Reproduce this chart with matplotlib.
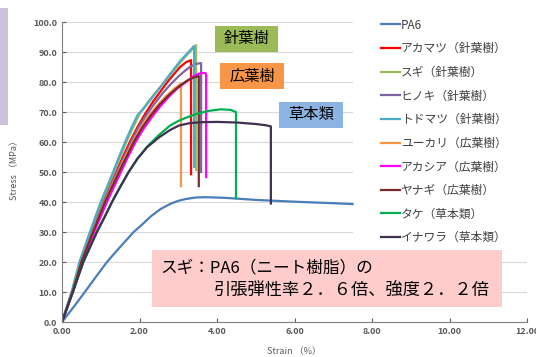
import matplotlib
matplotlib.use("Agg")
import matplotlib.pyplot as plt
from matplotlib.patches import Rectangle

plt.rcParams['font.family'] = ['Noto Sans CJK JP', 'DejaVu Sans']

# stress-strain curves (strain %, stress MPa)
pa6_x = [0, 0.3, 0.59, 0.9, 1.16, 1.5, 1.85, 2.05, 2.3, 2.55, 2.8, 3.0, 3.2, 3.45, 3.7, 4.2, 5.0, 6.0, 7.0, 7.5]
pa6_y = [0, 5, 10, 15.5, 20, 25, 30, 32.3, 35.3, 37.7, 39.4, 40.4, 41.0, 41.5, 41.6, 41.4, 40.7, 40.1, 39.6, 39.3]

akamatsu_x = [0, 0.26, 0.48, 0.76, 1.06, 1.23, 1.4, 1.57, 1.75, 1.95, 2.15, 2.35, 2.55, 2.72, 2.9, 3.05, 3.2, 3.33, 3.33]
akamatsu_y = [0, 10, 20, 30, 40, 45, 50, 55, 60, 65, 69.5, 73.5, 77, 80, 82.8, 85, 86.6, 87.3, 49.3]

sugi_x = [0, 0.25, 0.46, 0.73, 1.02, 1.18, 1.34, 1.5, 1.66, 1.84, 2.03, 2.2, 2.4, 2.58, 2.75, 2.93, 3.1, 3.28, 3.46, 3.46]
sugi_y = [0, 10, 20, 30, 40, 45, 50, 55, 60, 65, 70, 73, 76.3, 79, 81.7, 84.5, 87.2, 89.8, 92.3, 50.7]

hinoki_x = [0, 0.26, 0.48, 0.77, 1.08, 1.25, 1.42, 1.6, 1.78, 1.98, 2.2, 2.4, 2.6, 2.8, 3.0, 3.15, 3.3, 3.45, 3.59, 3.59]
hinoki_y = [0, 10, 20, 30, 40, 45, 50, 55, 60, 65, 69.5, 73, 76.3, 79.2, 81.8, 83.5, 85, 86, 86.3, 50.0]

todomatsu_x = [0, 0.25, 0.45, 0.72, 1.0, 1.16, 1.32, 1.47, 1.63, 1.8, 1.95, 2.1, 2.25, 2.4, 2.58, 2.75, 2.9, 3.05, 3.23, 3.41, 3.41]
todomatsu_y = [0, 10, 20, 30, 40, 45, 50, 55, 60, 65, 69, 71, 73.5, 76, 79, 82, 84.5, 87, 89.5, 92.0, 51.7]

yukari_x = [0, 0.27, 0.5, 0.79, 1.1, 1.27, 1.45, 1.63, 1.82, 2.03, 2.25, 2.48, 2.7, 2.9, 3.07, 3.07]
yukari_y = [0, 10, 20, 30, 40, 45, 50, 55, 60, 64.8, 69, 72.5, 75.5, 77.8, 79.5, 45.3]

akashia_x = [0, 0.28, 0.52, 0.83, 1.16, 1.34, 1.52, 1.7, 1.9, 2.1, 2.3, 2.52, 2.75, 2.97, 3.2, 3.35, 3.5, 3.6, 3.7, 3.72, 3.72]
akashia_y = [0, 10, 20, 30, 40, 45, 50, 55, 60, 64.3, 68, 71.6, 75, 77.8, 80, 81.5, 82.6, 83, 83, 82.3, 48.3]

yanagi_x = [0, 0.27, 0.5, 0.8, 1.11, 1.29, 1.47, 1.66, 1.85, 2.07, 2.3, 2.52, 2.75, 2.95, 3.1, 3.25, 3.4, 3.53, 3.53]
yanagi_y = [0, 10, 20, 30, 40, 45, 50, 55, 60, 64.8, 69, 72.5, 75.5, 77.8, 79.3, 80.6, 81.5, 82, 45.3]

take_x = [0, 0.28, 0.55, 0.9, 1.1, 1.29, 1.5, 1.72, 1.95, 2.2, 2.5, 2.79, 3.0, 3.22, 3.5, 3.8, 4.1, 4.35, 4.49, 4.49]
take_y = [0, 10, 20, 30, 35, 40, 45, 50, 54.5, 58.5, 62.3, 65.5, 67, 68.2, 69.5, 70.4, 70.9, 70.7, 70, 41.3]

inawara_x = [0, 0.28, 0.55, 0.9, 1.1, 1.29, 1.5, 1.72, 1.95, 2.2, 2.5, 2.79, 3.02, 3.3, 3.6, 4.0, 4.5, 5.0, 5.25, 5.39, 5.39]
inawara_y = [0, 10, 20, 30, 35, 40, 45, 50, 54.5, 58.3, 61.5, 64, 65.5, 66.3, 66.6, 66.7, 66.5, 66.0, 65.6, 65.2, 39.5]

names = ["PA6", "アカマツ（針葉樹）", "スギ（針葉樹）", "ヒノキ（針葉樹）", "トドマツ（針葉樹）",
         "ユーカリ（広葉樹）", "アカシア（広葉樹）", "ヤナギ（広葉樹）", "タケ（草本類）", "イナワラ（草本類）"]
colors = ["#4a7ebb", "#ff0000", "#9bbb59", "#8064a2", "#4bacc6",
          "#f79646", "#ff00ff", "#772c2a", "#00b050", "#403152"]
curves = [(pa6_x, pa6_y), (akamatsu_x, akamatsu_y), (sugi_x, sugi_y), (hinoki_x, hinoki_y),
          (todomatsu_x, todomatsu_y), (yukari_x, yukari_y), (akashia_x, akashia_y),
          (yanagi_x, yanagi_y), (take_x, take_y), (inawara_x, inawara_y)]

fig = plt.figure(figsize=(5.36, 3.57), dpi=100)
ax = fig.add_axes([62/536, 35/357, 465/536, 300/357])

for (xs, ys), c, n in zip(curves, colors, names):
    ax.plot(xs, ys, color=c, lw=1.6, label=n, solid_joinstyle="round")

ax.set_xlim(0, 12)
ax.set_ylim(0, 100)
ax.set_xticks(range(0, 13, 2))
ax.set_yticks(range(0, 101, 10))
ax.xaxis.set_major_formatter(lambda v, p: f"{v:.2f}")
ax.yaxis.set_major_formatter(lambda v, p: f"{v:.1f}")
ax.tick_params(labelsize=6.5, colors="#595959", length=3, direction="in")
for lab in ax.get_xticklabels() + ax.get_yticklabels():
    lab.set_fontweight("bold")
ax.grid(axis="y", color="#d9d9d9", lw=0.8)
ax.set_axisbelow(True)
for s in ["top", "right"]:
    ax.spines[s].set_visible(False)
for s in ["left", "bottom"]:
    ax.spines[s].set_color("#7f7f7f")

# white area behind the legend hides the gridlines there
ax.add_patch(Rectangle((353/536, 1 - 245/357), 183/536, 237/357, transform=fig.transFigure,
                       facecolor="white", edgecolor="none", zorder=1.5, clip_on=False))

fig.text(15/536, 1 - 168/357, "Stress （MPa）", rotation=90, fontsize=6.5,
         color="#595959", ha="center", va="center")
fig.text(294/536, 1 - 352/357, "Strain （%）", fontsize=6.5,
         color="#595959", ha="center", va="center")

leg = ax.legend(loc="upper left", bbox_to_anchor=(370/536, 1 - 8/357), bbox_transform=fig.transFigure,
                frameon=False, fontsize=8.5, handlelength=1.6, handletextpad=0.1,
                labelspacing=0.9, borderpad=0.4)
for t in leg.get_texts():
    t.set_color("#404040")

# category boxes
boxes = [("針葉樹", 215, 26, 63, 26, "#9bbb59"),
         ("広葉樹", 220, 63, 64, 26, "#f79646"),
         ("草本類", 279, 102, 64, 26, "#8db3e2")]
for txt, x0, y0, w, h, c in boxes:
    fig.patches.append(Rectangle((x0/536, 1 - (y0 + h)/357), w/536, h/357,
                                 transform=fig.transFigure, facecolor=c, edgecolor="none", zorder=5))
    fig.text((x0 + w/2)/536, 1 - (y0 + h/2)/357, txt, fontsize=11, ha="center", va="center", zorder=6)

# summary box
fig.patches.append(Rectangle((152/536, 1 - 307/357), 350/536, 57/357, transform=fig.transFigure,
                             facecolor="#ffcccc", edgecolor="none", zorder=5))
fig.text(160/536, 1 - 268/357, "スギ：PA6（ニート樹脂）の", fontsize=12, ha="left", va="center", zorder=6)
fig.text(214/536, 1 - 291/357, "引張弾性率２．６倍、強度２．２倍", fontsize=12.4, ha="left", va="center", zorder=6)

# cropped side panel at top-left
fig.patches.append(Rectangle((0, 1 - 125/357), 8/536, 117/357, transform=fig.transFigure,
                             facecolor="#ccc0da", edgecolor="none"))

fig.savefig("out.png", dpi=100)
